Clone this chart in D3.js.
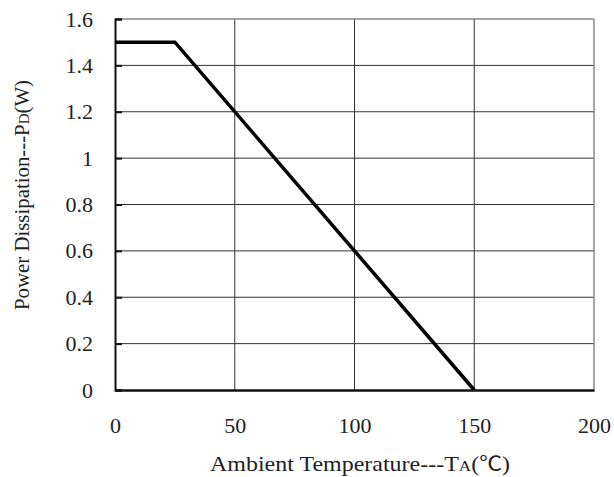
<!DOCTYPE html>
<html>
<head>
<meta charset="utf-8">
<script src="https://cdn.jsdelivr.net/npm/d3@7"></script>
<style>
  body { margin: 0; background: #fff; }
  text { font-family: "Liberation Serif", "DejaVu Serif", serif; fill: #222; }
</style>
</head>
<body>
<div id="container"></div>
<script>
const WIDTH = 614;
const HEIGHT = 477;
const MARGIN = { TOP: 19, BOTTOM: 87, LEFT: 115, RIGHT: 20 };

const width = WIDTH - MARGIN.LEFT - MARGIN.RIGHT;
const height = HEIGHT - MARGIN.TOP - MARGIN.BOTTOM;

// derating curve
const tempC = [0, 25, 150];
const powerW = [1.5, 1.5, 0];

const xTicks = [0, 50, 100, 150, 200];
const yTicks = [0, 0.2, 0.4, 0.6, 0.8, 1, 1.2, 1.4, 1.6];

const svg = d3.select('#container')
              .append('svg')
                .attr('width', WIDTH)
                .attr('height', HEIGHT);

const container = svg.append('g')
                     .attr('transform', `translate(${MARGIN.LEFT}, ${MARGIN.TOP})`);

const xscale = d3.scaleLinear().domain([0, 200]).range([0, width]);
const yscale = d3.scaleLinear().domain([0, 1.6]).range([height, 0]);

// grid
container.append('g')
  .selectAll('line')
  .data(xTicks.slice(1, -1))
  .join('line')
    .attr('x1', d => xscale(d)).attr('x2', d => xscale(d))
    .attr('y1', 0).attr('y2', height)
    .attr('stroke', '#333').attr('stroke-width', 1);

container.append('g')
  .selectAll('line')
  .data(yTicks.slice(1, -1))
  .join('line')
    .attr('x1', 0).attr('x2', width)
    .attr('y1', d => yscale(d)).attr('y2', d => yscale(d))
    .attr('stroke', '#333').attr('stroke-width', 1);

// frame: top and right lighter
container.append('line')
  .attr('x1', 0).attr('x2', width).attr('y1', 0).attr('y2', 0)
  .attr('stroke', '#888').attr('stroke-width', 1.5);
container.append('line')
  .attr('x1', width).attr('x2', width).attr('y1', 0).attr('y2', height)
  .attr('stroke', '#888').attr('stroke-width', 1.5);

// left axis
const axisLeft = d3.axisLeft(yscale)
  .tickValues(yTicks)
  .tickSize(-7)
  .tickPadding(22)
  .tickFormat(d => d3.format('~g')(d));

const yAxis = container.append('g').call(axisLeft);
yAxis.select('.domain').attr('stroke', '#111').attr('stroke-width', 2);
yAxis.selectAll('.tick line').attr('stroke', '#111').attr('stroke-width', 2);
yAxis.selectAll('.tick text')
  .attr('font-size', 22)
  .attr('font-family', '"Liberation Serif", serif')
  .attr('fill', '#222');

// bottom axis
const axisBottom = d3.axisBottom(xscale)
  .tickValues(xTicks)
  .tickSize(0)
  .tickPadding(27);

const xAxis = container.append('g')
  .attr('transform', `translate(0, ${height})`)
  .call(axisBottom);
xAxis.select('.domain').attr('stroke', '#111').attr('stroke-width', 2.5);
xAxis.selectAll('.tick text')
  .attr('font-size', 22)
  .attr('font-family', '"Liberation Serif", serif')
  .attr('fill', '#222');

// curve
const line = d3.line()
  .x((d, i) => xscale(tempC[i]))
  .y(d => yscale(d));

container.append('path')
  .datum(powerW)
  .attr('d', line)
  .attr('fill', 'none')
  .attr('stroke', '#000')
  .attr('stroke-width', 3.5)
  .attr('stroke-linejoin', 'miter');

// titles
const xTitle = svg.append('text')
  .attr('x', 360)
  .attr('y', 471)
  .attr('text-anchor', 'middle')
  .attr('font-size', 21)
  .attr('textLength', 300)
  .attr('lengthAdjust', 'spacingAndGlyphs');
xTitle.append('tspan').text('Ambient Temperature---T');
xTitle.append('tspan').attr('font-size', 15).text('A');
xTitle.append('tspan').text('(');
xTitle.append('tspan').attr('font-family', '"Noto Sans CJK TC", sans-serif').attr('font-size', 20).text('℃');
xTitle.append('tspan').text(')');

const yTitle = svg.append('text')
  .attr('transform', 'translate(29, 195) rotate(-90)')
  .attr('text-anchor', 'middle')
  .attr('font-size', 21)
  .attr('textLength', 230)
  .attr('lengthAdjust', 'spacingAndGlyphs');
yTitle.append('tspan').text('Power Dissipation---P');
yTitle.append('tspan').attr('font-size', 15).text('D');
yTitle.append('tspan').text('(W)');
</script>
</body>
</html>
